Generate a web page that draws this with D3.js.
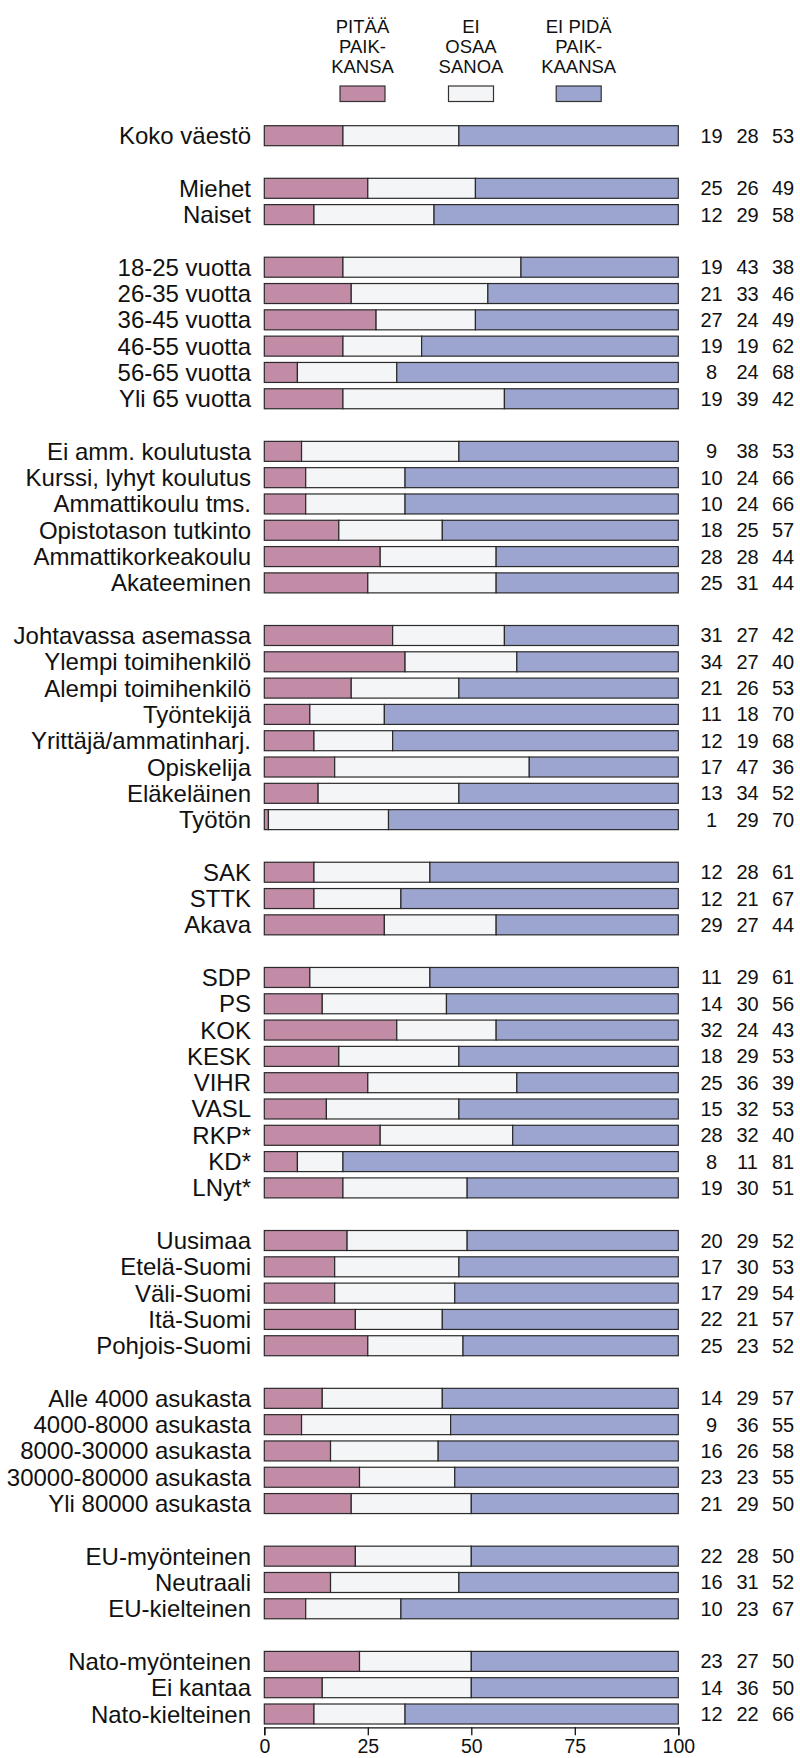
<!DOCTYPE html>
<html lang="fi">
  <head>
    <meta charset="UTF-8" />
    <title>Pitää paikkansa</title>
    <script src="https://d3js.org/d3.v7.min.js"></script>
    <style>
      body { margin: 0; background: #fff; }
      text { font-family: "Liberation Sans", Arial, sans-serif; fill: #111; }
    </style>
  </head>
  <body>
    <div id="graph"></div>
    <script>
      // rivit ryhmittäin, ryhmien välissä tyhjä rivi
      var groupSizes = [1, 2, 6, 6, 8, 3, 9, 5, 5, 3, 3];
      var labels = [
        "Koko väestö",
        "Miehet", "Naiset",
        "18-25 vuotta", "26-35 vuotta", "36-45 vuotta", "46-55 vuotta", "56-65 vuotta", "Yli 65 vuotta",
        "Ei amm. koulutusta", "Kurssi, lyhyt koulutus", "Ammattikoulu tms.", "Opistotason tutkinto", "Ammattikorkeakoulu", "Akateeminen",
        "Johtavassa asemassa", "Ylempi toimihenkilö", "Alempi toimihenkilö", "Työntekijä", "Yrittäjä/ammatinharj.", "Opiskelija", "Eläkeläinen", "Työtön",
        "SAK", "STTK", "Akava",
        "SDP", "PS", "KOK", "KESK", "VIHR", "VASL", "RKP*", "KD*", "LNyt*",
        "Uusimaa", "Etelä-Suomi", "Väli-Suomi", "Itä-Suomi", "Pohjois-Suomi",
        "Alle 4000 asukasta", "4000-8000 asukasta", "8000-30000 asukasta", "30000-80000 asukasta", "Yli 80000 asukasta",
        "EU-myönteinen", "Neutraali", "EU-kielteinen",
        "Nato-myönteinen", "Ei kantaa", "Nato-kielteinen"
      ];
      var pitaa = [19, 25, 12, 19, 21, 27, 19, 8, 19, 9, 10, 10, 18, 28, 25, 31, 34, 21, 11, 12, 17, 13, 1,
        12, 12, 29, 11, 14, 32, 18, 25, 15, 28, 8, 19, 20, 17, 17, 22, 25, 14, 9, 16, 23, 21, 22, 16, 10, 23, 14, 12];
      var eiOsaa = [28, 26, 29, 43, 33, 24, 19, 24, 39, 38, 24, 24, 25, 28, 31, 27, 27, 26, 18, 19, 47, 34, 29,
        28, 21, 27, 29, 30, 24, 29, 36, 32, 32, 11, 30, 29, 30, 29, 21, 23, 29, 36, 26, 23, 29, 28, 31, 23, 27, 36, 22];
      var eiPida = [53, 49, 58, 38, 46, 49, 62, 68, 42, 53, 66, 66, 57, 44, 44, 42, 40, 53, 70, 68, 36, 52, 70,
        61, 67, 44, 61, 56, 43, 53, 39, 53, 40, 81, 51, 52, 53, 54, 57, 52, 57, 55, 58, 55, 50, 50, 52, 67, 50, 50, 66];
      var legendLines = [["PITÄÄ", "PAIK-", "KANSA"], ["EI", "OSAA", "SANOA"], ["EI PIDÄ", "PAIK-", "KAANSA"]];
      var colors = ["#c28ba6", "#f4f5f7", "#9ca5cf"];
      var xTicks = [0, 25, 50, 75, 100];

      var width = 800, height = 1758;

      // rivin paikka (slot) tyhjät välirivit mukaan lukien
      var rows = [];
      var slot = 0, k = 0;
      groupSizes.forEach(function (n, gi) {
        for (var i = 0; i < n; i++) {
          rows.push({ label: labels[k], vals: [pitaa[k], eiOsaa[k], eiPida[k]], slot: slot });
          k++; slot++;
        }
        slot++;
      });
      var lastSlot = rows[rows.length - 1].slot;

      var x = d3.scaleLinear().domain([0, 100]).range([264.3, 678.3]);
      var y = d3.scaleLinear().domain([0, lastSlot]).range([135.7, 1714]);
      var barH = 20;

      var svg = d3.select("#graph").append("svg")
        .attr("width", width).attr("height", height);

      // legenda
      var legX = [362.5, 471, 578.7];
      legendLines.forEach(function (lines, i) {
        var t = svg.append("text")
          .attr("text-anchor", "middle")
          .style("font-size", "18.5px");
        lines.forEach(function (s, j) {
          t.append("tspan").attr("x", legX[i]).attr("y", 33 + j * 20).text(s);
        });
        svg.append("rect")
          .attr("x", legX[i] - 22.5).attr("y", 86)
          .attr("width", 45).attr("height", 15.5)
          .attr("fill", colors[i])
          .attr("stroke", "#333").attr("stroke-width", 1.2);
      });

      var row = svg.selectAll("g.row").data(rows).enter().append("g")
        .attr("class", "row")
        .attr("transform", function (d) { return "translate(0," + y(d.slot) + ")"; });

      row.append("text")
        .attr("x", 251).attr("y", 8.5)
        .attr("text-anchor", "end")
        .style("font-size", "24px")
        .text(function (d) { return d.label; });

      // pinotut osat: viimeinen osa aina 100:aan asti
      row.selectAll("rect").data(function (d) {
        var a = d.vals[0], b = d.vals[0] + d.vals[1];
        return [[0, a, 0], [a, b, 1], [b, 100, 2]];
      }).enter().append("rect")
        .attr("x", function (s) { return x(s[0]); })
        .attr("y", -barH / 2)
        .attr("width", function (s) { return Math.max(0, x(s[1]) - x(s[0])); })
        .attr("height", barH)
        .attr("fill", function (s) { return colors[s[2]]; })
        .attr("stroke", "#2a2a2a").attr("stroke-width", 1.2);

      var colX = [711.5, 747.5, 783];
      row.selectAll("text.val").data(function (d) { return d.vals; }).enter().append("text")
        .attr("class", "val")
        .attr("x", function (v, i) { return colX[i]; })
        .attr("y", 7)
        .attr("text-anchor", "middle")
        .style("font-size", "20px")
        .text(function (v) { return v; });

      // x-akseli
      var axis = svg.append("g")
        .attr("transform", "translate(0,1727.3)")
        .call(d3.axisBottom(x).tickValues(xTicks).tickSize(8).tickPadding(4).tickFormat(d3.format("d")));
      axis.select(".domain").attr("stroke", "#111").attr("stroke-width", 1.3);
      axis.selectAll(".tick line").attr("stroke", "#111").attr("stroke-width", 1.3);
      axis.selectAll(".tick text")
        .style("font-size", "19.5px")
        .style("font-family", "'Liberation Sans', Arial, sans-serif")
        .attr("fill", "#111");
    </script>
  </body>
</html>
